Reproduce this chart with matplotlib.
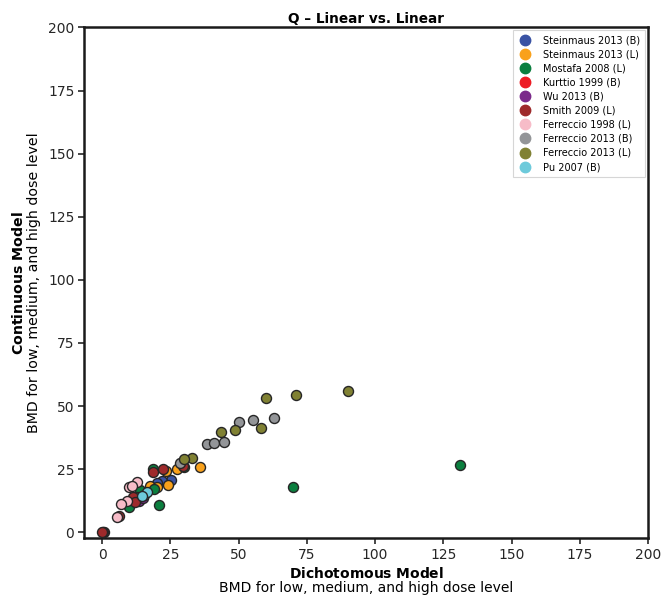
import matplotlib
matplotlib.use("Agg")
import matplotlib.pyplot as plt
from matplotlib.lines import Line2D

# study names and colours
studies = [
    "Steinmaus 2013 (B)", "Steinmaus 2013 (L)", "Mostafa 2008 (L)",
    "Kurttio 1999 (B)", "Wu 2013 (B)", "Smith 2009 (L)",
    "Ferreccio 1998 (L)", "Ferreccio 2013 (B)", "Ferreccio 2013 (L)",
    "Pu 2007 (B)",
]
colors = ["#3a53a4", "#f9a11b", "#0b7f3f", "#ed1c24", "#7b2a8a",
          "#9e2a2b", "#f7bcc8", "#939598", "#808133", "#6dcadb"]

# dichotomous (x) and continuous (y) BMDs per study
steinmaus_b_x = [25.2, 22.0, 20.0, 15.0]
steinmaus_b_y = [20.7, 20.3, 19.4, 15.0]
steinmaus_l_x = [27.5, 36.0, 23.4, 24.0, 17.7, 20.2]
steinmaus_l_y = [24.9, 25.7, 24.3, 18.7, 18.3, 18.0]
mostafa_x = [131.0, 70.0, 21.0, 30.1, 18.5, 19.1, 14.0, 10.0, 12.8]
mostafa_y = [26.6, 17.8, 10.6, 25.7, 25.0, 17.1, 16.6, 10.0, 14.0]
kurttio_x = [0.8, 0.3]
kurttio_y = [0.2, 0.1]
wu_x = [13.6, 15.0]
wu_y = [12.3, 13.5]
smith_x = [-0.1, 6.3, 11.5, 18.5, 22.4, 29.5, 12.0]
smith_y = [0.1, 6.4, 13.9, 24.0, 25.2, 26.2, 12.0]
ferr98_x = [12.9, 9.8, 9.0, 6.9, 5.4, 11.0]
ferr98_y = [19.8, 18.0, 12.3, 11.3, 6.0, 18.5]
ferr13b_x = [38.3, 41.0, 44.7, 50.0, 55.2, 62.9, 28.6, 15.2]
ferr13b_y = [34.9, 35.3, 35.9, 43.5, 44.4, 45.2, 27.3, 14.6]
ferr13l_x = [90.1, 70.9, 60.2, 58.3, 48.8, 43.4, 33.0, 30.0]
ferr13l_y = [55.9, 54.5, 53.2, 41.1, 40.4, 39.9, 29.3, 29.2]
pu_x = [16.6, 14.5]
pu_y = [16.0, 14.5]

xs = [steinmaus_b_x, steinmaus_l_x, mostafa_x, kurttio_x, wu_x,
      smith_x, ferr98_x, ferr13b_x, ferr13l_x, pu_x]
ys = [steinmaus_b_y, steinmaus_l_y, mostafa_y, kurttio_y, wu_y,
      smith_y, ferr98_y, ferr13b_y, ferr13l_y, pu_y]

fig = plt.figure(figsize=(6.62, 5.95), dpi=100)
ax = fig.add_axes([0.127, 0.0958, 0.852, 0.858])

for name, c, x, y in zip(studies, colors, xs, ys):
    ax.scatter(x, y, s=52, color=c, edgecolor="#262626", linewidth=1.0,
               label=name, zorder=3)

ax.set_xlim(-6.6, 200)
ax.set_ylim(-2.3, 200)
ax.set_xticks(range(0, 201, 25))
ax.set_yticks(range(0, 201, 25))
ax.tick_params(labelsize=10, colors="#262626", width=1.2, length=4, pad=3)
for sp in ax.spines.values():
    sp.set_linewidth(1.8)
    sp.set_color("#1a1a1a")

ax.set_title("Q \u2013 Linear vs. Linear", fontsize=9.8, fontweight="bold", pad=3)
ax.set_xlabel("$\\bf{Dichotomous\\ Model}$\nBMD for low, medium, and high dose level",
              fontsize=10, labelpad=3, linespacing=1.0)
ax.set_ylabel("$\\bf{Continuous\\ Model}$\nBMD for low, medium, and high dose level",
              fontsize=10.2, labelpad=5, linespacing=1.05)

handles = [Line2D([], [], marker="o", linestyle="", markersize=7.5,
                  markerfacecolor=c, markeredgecolor=c) for c in colors]
leg = ax.legend(handles, studies, loc="upper right", fontsize=7,
                frameon=True, borderpad=0.5, labelspacing=0.42,
                handlelength=1.65, handletextpad=1.0, borderaxespad=0.3,
                fancybox=False, edgecolor="#cccccc")
leg.get_frame().set_linewidth(0.8)

fig.savefig("out.png", dpi=100)
